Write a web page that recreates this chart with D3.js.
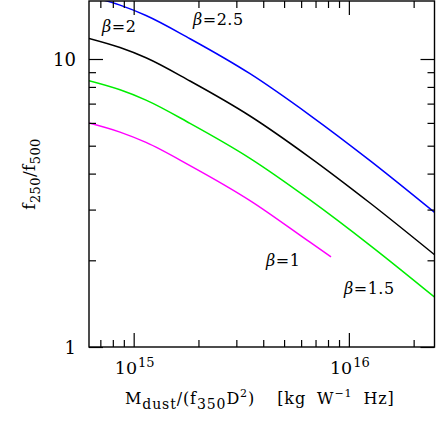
<!DOCTYPE html>
<html>
<head>
<meta charset="utf-8">
<script src="https://cdn.jsdelivr.net/npm/d3@7/dist/d3.min.js"></script>
<style>
  html, body { margin: 0; padding: 0; background: #fff; }
  svg { display: block; }
  text { font-family: "DejaVu Serif", "Liberation Serif", serif; fill: #000; }
</style>
</head>
<body>
<svg id="chart" width="436" height="436"></svg>
<script>
// ---- data ----
const xDomain = [6.2e14, 2.5e16];
const yDomain = [1, 15.9];

const beta1X = [6.2e14, 8.64e14, 1.141e15, 1.827e15, 3.472e15, 6.597e15, 8.26e15];
const beta1Y = [5.995, 5.574, 5.133, 4.265, 3.224, 2.311, 2.057];

const beta15X = [6.2e14, 8.64e14, 1.141e15, 1.827e15, 3.472e15, 6.597e15, 1.254e16, 2.513e16];
const beta15Y = [8.406, 7.818, 7.201, 5.979, 4.521, 3.242, 2.255, 1.486];

const beta2X = [6.2e14, 8.64e14, 1.141e15, 1.827e15, 3.472e15, 6.597e15, 1.254e16, 2.513e16];
const beta2Y = [11.79, 10.96, 10.10, 8.386, 6.340, 4.547, 3.162, 2.085];

const beta25X = [6.2e14, 8.64e14, 1.141e15, 1.827e15, 3.472e15, 6.597e15, 1.254e16, 2.513e16];
const beta25Y = [16.54, 15.38, 14.16, 11.76, 8.89, 6.375, 4.437, 2.924];

const seriesNames = ["β=1", "β=1.5", "β=2", "β=2.5"];
const seriesColors = ["#ff00ff", "#00ee00", "#000000", "#0000ff"];

const xMajorTicks = [1e15, 1e16];
const xMajorExp = ["15", "16"];
const xMinorTicks = [7e14, 8e14, 9e14, 2e15, 3e15, 4e15, 5e15, 6e15, 7e15, 8e15, 9e15, 2e16];
const yMajorTicks = [1, 10];
const yMajorLabels = ["1", "10"];
const yMinorTicks = [2, 3, 4, 5, 6, 7, 8, 9];

// ---- layout ----
const svg = d3.select("#chart");
const L = 89, R = 434.5, T = 1, B = 347;
const x = d3.scaleLog().domain(xDomain).range([L, R]);
const y = d3.scaleLog().domain(yDomain).range([B, T]);

svg.append("defs").append("clipPath").attr("id", "clip")
  .append("rect").attr("x", L).attr("y", T).attr("width", R - L).attr("height", B - T);

const series = [
  {xs: beta1X, ys: beta1Y},
  {xs: beta15X, ys: beta15Y},
  {xs: beta2X, ys: beta2Y},
  {xs: beta25X, ys: beta25Y}
];

const line = d3.line().x(d => x(d[0])).y(d => y(d[1])).curve(d3.curveMonotoneX);
const g = svg.append("g").attr("clip-path", "url(#clip)");
series.forEach((s, i) => {
  g.append("path")
    .datum(s.xs.map((v, k) => [v, s.ys[k]]))
    .attr("d", line)
    .attr("fill", "none")
    .attr("stroke", seriesColors[i])
    .attr("stroke-width", 1.5);
});

// ---- axes (ticks inward on all four sides) ----
function styleAxis(sel) {
  sel.select(".domain").remove();
  sel.selectAll(".tick line").attr("stroke", "#000").attr("stroke-width", 1.2);
  sel.selectAll(".tick text").remove();
}
const MAJ = 14, MIN = 7;
svg.append("g").attr("transform", `translate(0,${B})`)
  .call(d3.axisBottom(x).tickValues(xMajorTicks).tickSize(-MAJ).tickFormat("")).call(styleAxis);
svg.append("g").attr("transform", `translate(0,${B})`)
  .call(d3.axisBottom(x).tickValues(xMinorTicks).tickSize(-MIN).tickFormat("")).call(styleAxis);
svg.append("g").attr("transform", `translate(0,${T})`)
  .call(d3.axisTop(x).tickValues(xMajorTicks).tickSize(-MAJ).tickFormat("")).call(styleAxis);
svg.append("g").attr("transform", `translate(0,${T})`)
  .call(d3.axisTop(x).tickValues(xMinorTicks).tickSize(-MIN).tickFormat("")).call(styleAxis);
svg.append("g").attr("transform", `translate(${L},0)`)
  .call(d3.axisLeft(y).tickValues(yMajorTicks).tickSize(-MAJ).tickFormat("")).call(styleAxis);
svg.append("g").attr("transform", `translate(${L},0)`)
  .call(d3.axisLeft(y).tickValues(yMinorTicks).tickSize(-MIN).tickFormat("")).call(styleAxis);
svg.append("g").attr("transform", `translate(${R},0)`)
  .call(d3.axisRight(y).tickValues(yMajorTicks).tickSize(-MAJ).tickFormat("")).call(styleAxis);
svg.append("g").attr("transform", `translate(${R},0)`)
  .call(d3.axisRight(y).tickValues(yMinorTicks).tickSize(-MIN).tickFormat("")).call(styleAxis);

svg.append("rect").attr("x", L).attr("y", T).attr("width", R - L).attr("height", B - T)
  .attr("fill", "none").attr("stroke", "#000").attr("stroke-width", 1.4);

// ---- tick labels ----
xMajorTicks.forEach((v, i) => {
  const t = svg.append("text").attr("x", x(v) + 1).attr("y", 374)
    .attr("text-anchor", "middle").attr("font-size", 17.5);
  t.append("tspan").text("10");
  t.append("tspan").attr("dx", 1).attr("dy", -7).attr("font-size", 13).text(xMajorExp[i]);
});
yMajorTicks.forEach((v, i) => {
  svg.append("text").attr("x", 76).attr("y", y(v)).attr("dy", "0.38em")
    .attr("text-anchor", "end").attr("font-size", 18).text(yMajorLabels[i]);
});

// ---- axis titles ----
const xt = svg.append("text").attr("x", 125).attr("y", 404)
  .attr("text-anchor", "start").attr("font-size", 16).attr("letter-spacing", 0.9);
xt.append("tspan").text("M");
xt.append("tspan").attr("dy", 5).attr("font-size", 14).text("dust");
xt.append("tspan").attr("dy", -5).text("/(f");
xt.append("tspan").attr("dy", 5).attr("font-size", 14).text("350");
xt.append("tspan").attr("dy", -5).text("D");
xt.append("tspan").attr("dy", -7).attr("font-size", 11).text("2");
xt.append("tspan").attr("dy", 7).text(")");
xt.append("tspan").attr("dx", 22).text("[kg");
xt.append("tspan").attr("dx", 11).text("W");
xt.append("tspan").attr("dy", -7).attr("font-size", 11).text("−1");
xt.append("tspan").attr("dx", 11).attr("dy", 7).text("Hz]");

const yt = svg.append("text")
  .attr("transform", `translate(35,${(T + B) / 2}) rotate(-90)`)
  .attr("text-anchor", "middle").attr("font-size", 17).attr("letter-spacing", 0.4);
yt.append("tspan").text("f");
yt.append("tspan").attr("dy", 5).attr("font-size", 13).text("250");
yt.append("tspan").attr("dy", -5).text("/f");
yt.append("tspan").attr("dy", 5).attr("font-size", 13).text("500");

// ---- in-plot labels ----
const labelPos = [[266, 266], [344, 294], [102, 32], [193, 25]];
seriesNames.forEach((name, i) => {
  const t = svg.append("text").attr("x", labelPos[i][0]).attr("y", labelPos[i][1])
    .attr("font-size", 16).attr("letter-spacing", 0.5);
  t.append("tspan").attr("font-style", "italic").text(name.slice(0, 1));
  t.append("tspan").text(name.slice(1));
});
</script>
</body>
</html>
